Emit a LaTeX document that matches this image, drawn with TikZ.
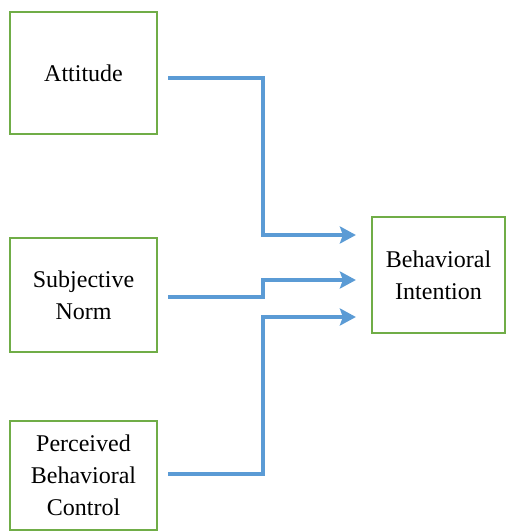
\documentclass[tikz,border=0pt]{standalone}
\usepackage{fontspec}
\setmainfont{Liberation Serif}
\usetikzlibrary{arrows.meta}
\definecolor{boxgreen}{HTML}{70AD47}
\definecolor{arrblue}{HTML}{5B9BD5}
\tikzset{
  box/.style={draw=boxgreen, line width=2.2pt, rectangle, align=center, font=\fontsize{24}{32}\selectfont, inner sep=0pt},
  arr/.style={draw=arrblue, line width=4pt, -{Stealth[length=16pt,width=17pt,inset=3pt]}}
}
\begin{document}
\begin{tikzpicture}[x=1pt,y=-1pt]
\useasboundingbox (0,0) rectangle (508,532);
\node[box, minimum width=147pt, minimum height=122pt] (att) at (83.5,73) {Attitude};
\node[box, minimum width=147pt, minimum height=114pt] (sn) at (83.5,295) {Subjective\\Norm};
\node[box, minimum width=147pt, minimum height=109pt] (pbc) at (83.5,475.5) {Perceived\\Behavioral\\Control};
\node[box, minimum width=133pt, minimum height=116pt] (bi) at (438.5,275) {Behavioral\\Intention};
\draw[arr] ([shift={(10,5)}]att.east) -- ++(95,0) |- ([shift={(-15,-40)}]bi.west);
\draw[arr] ([shift={(10,2)}]sn.east) -- ++(95,0) |- ([shift={(-15,5)}]bi.west);
\draw[arr] ([shift={(10,-1.5)}]pbc.east) -- ++(95,0) |- ([shift={(-15,42)}]bi.west);
\end{tikzpicture}
\end{document}
